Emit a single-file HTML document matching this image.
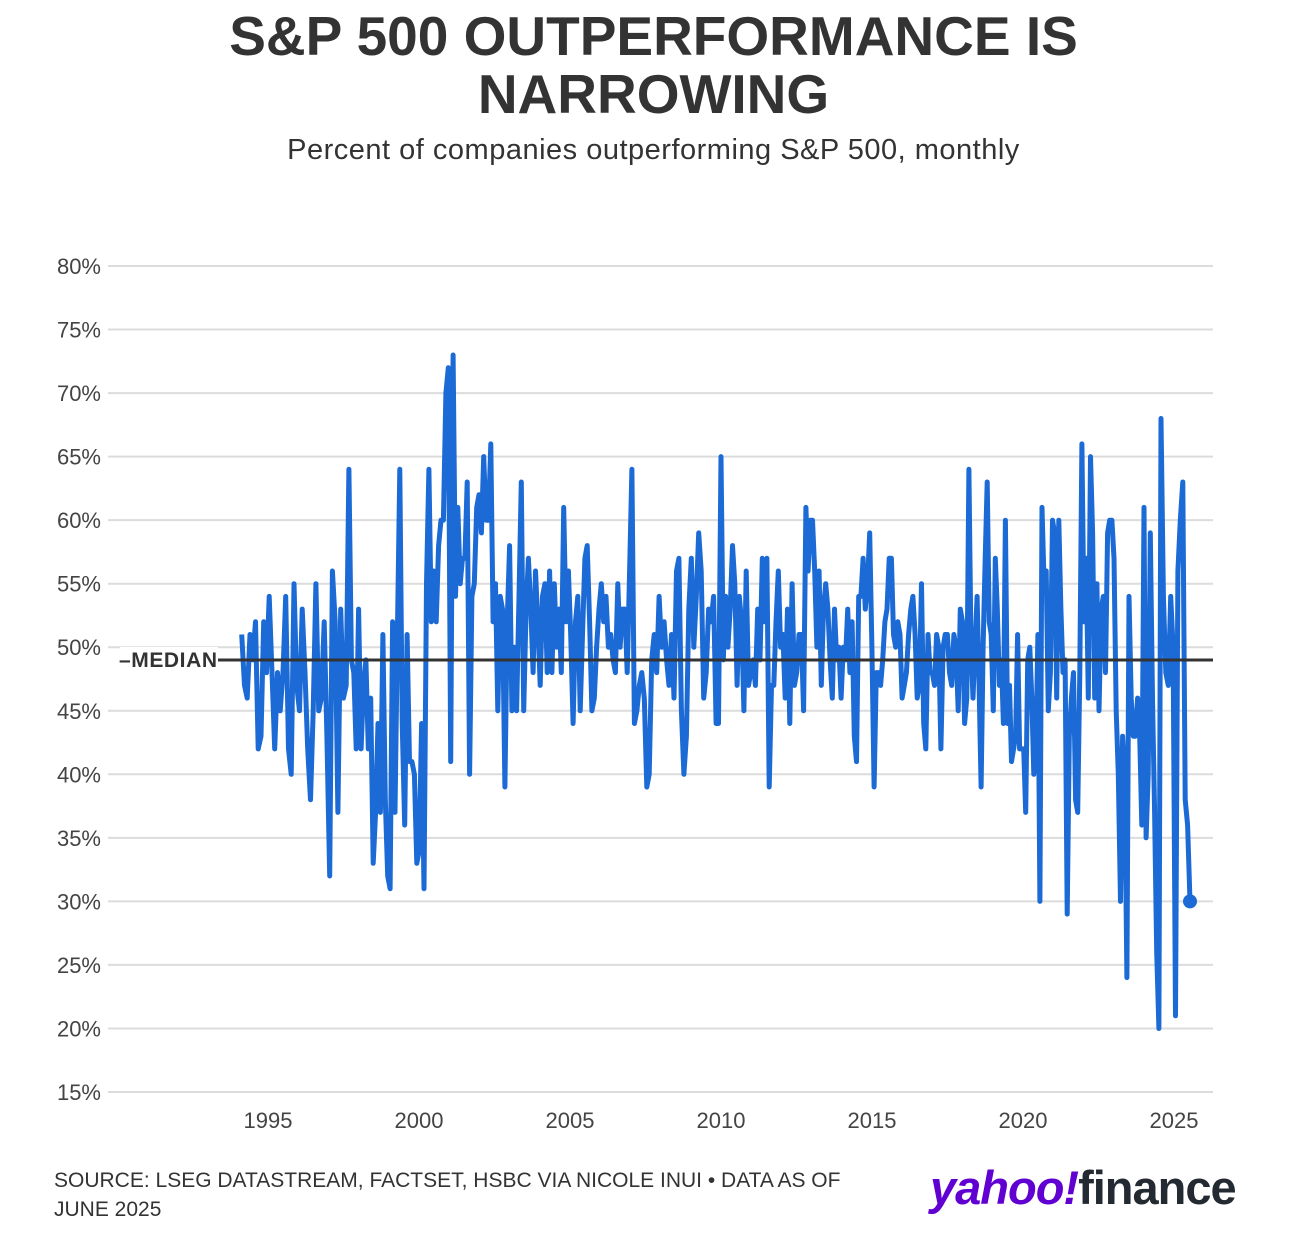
<!DOCTYPE html>
<html><head><meta charset="utf-8"><style>
body{margin:0;background:#fff;width:1307px;height:1240px;overflow:hidden;font-family:"Liberation Sans",sans-serif;}
#title{position:absolute;left:0;width:1307px;top:7px;text-align:center;font-weight:bold;font-size:55px;line-height:58px;color:#333;}
#sub{position:absolute;left:0;width:1307px;top:134px;text-align:center;font-size:29px;color:#333;letter-spacing:0.5px}
#src{position:absolute;left:54px;top:1166px;font-size:21px;line-height:29px;color:#333;width:840px}
#logo{position:absolute;left:930px;top:1160px;font-size:47px;font-weight:bold;letter-spacing:-1px;}
</style></head><body>
<div id="title">S&amp;P 500 OUTPERFORMANCE IS<br>NARROWING</div>
<div id="sub">Percent of companies outperforming S&amp;P 500, monthly</div>
<svg id="chart" width="1307" height="1240" style="position:absolute;left:0;top:0"></svg>
<div id="src">SOURCE: LSEG DATASTREAM, FACTSET, HSBC VIA NICOLE INUI • DATA AS OF JUNE 2025</div>
<div id="logo"><span style="color:#6001d2;font-style:italic">yahoo!</span><span style="color:#232a31">finance</span></div>
<script>
const yTicks=[15,20,25,30,35,40,45,50,55,60,65,70,75,80];
const xTicks=[1995,2000,2005,2010,2015,2020,2025];
const median=49;
const anchorIdx=[0,39,82,158,194,231,262,306,341,361,382,398,410];
const anchorYear=[1994.13,1997.68,2001.13,2007.05,2010.0,2012.81,2015.07,2018.21,2020.56,2021.95,2023.44,2024.57,2025.53];
const values=[51,47,46,51,49,52,42,43,52,48,54,48,42,48,45,48,54,42,40,55,47,45,53,48,42,38,45,55,45,46,52,43,32,56,52,37,53,46,47,64,49,48,42,53,42,47,49,42,46,33,37,44,37,51,38,32,31,52,37,51,64,44,36,51,41,41,40,33,34,44,31,55,64,52,56,52,58,60,60,70,72,41,73,54,61,55,57,57,63,40,54,55,61,62,59,65,60,60,66,52,55,45,54,53,39,52,58,45,50,45,54,63,45,53,57,53,48,56,52,47,54,55,48,56,48,55,50,53,48,61,52,56,51,44,52,54,45,51,57,58,52,45,46,50,53,55,52,54,50,51,49,48,55,50,53,53,48,56,64,44,45,47,48,46,39,40,49,51,48,54,50,52,49,47,51,46,56,57,45,40,43,53,57,50,54,59,56,46,48,53,52,54,44,44,65,49,54,50,53,58,55,47,54,52,45,56,47,48,49,47,53,49,57,52,57,39,47,47,52,56,50,51,46,53,44,55,47,48,51,51,45,61,56,60,60,56,50,56,47,53,55,53,49,46,53,49,50,46,50,49,53,48,52,43,41,54,54,57,53,55,59,50,39,48,48,47,49,52,53,57,57,51,50,52,51,46,47,48,51,53,54,51,46,47,55,44,42,51,48,48,47,51,50,42,50,51,51,48,47,51,50,45,53,52,44,46,64,50,46,50,54,47,39,50,57,63,52,51,45,57,53,47,49,44,60,44,47,41,42,43,51,42,42,42,37,49,50,46,40,42,51,30,61,55,56,45,48,60,59,46,60,53,48,49,29,43,46,48,38,37,48,66,52,57,46,65,59,46,55,45,53,54,48,59,60,60,57,45,40,30,43,40,24,54,46,43,43,46,43,36,61,35,40,59,46,37,26,20,68,54,48,47,54,50,21,56,60,63,38,36,30];
const svg=document.getElementById('chart');const NS='http://www.w3.org/2000/svg';
const X0=108,X1=1213,yearA=1995,xA=268,pxYear=30.2;
function xs(yr){return xA+(yr-yearA)*pxYear;}
function ys(v){return 266+(80-v)*826/65;}
function dateOf(i){for(let k=0;k<anchorIdx.length-1;k++){if(i<=anchorIdx[k+1]){const f=(i-anchorIdx[k])/(anchorIdx[k+1]-anchorIdx[k]);return anchorYear[k]+f*(anchorYear[k+1]-anchorYear[k]);}}return anchorYear[anchorYear.length-1];}
function mk(t,a,txt){const e=document.createElementNS(NS,t);for(const k in a)e.setAttribute(k,a[k]);if(txt!==undefined)e.textContent=txt;svg.appendChild(e);return e;}
yTicks.forEach(v=>{
 const g=mk('line',{x1:X0,x2:X1,y1:ys(v),y2:ys(v),stroke:'#dcdcdc','stroke-width':2});
 
 
 const t=mk('text',{x:101,y:ys(v)+8,'text-anchor':'end','font-size':22,fill:'#444','font-family':'Liberation Sans'},v+'%');
 
 
});
xTicks.forEach(yr=>{
 const t=mk('text',{x:xs(yr),y:1128,'text-anchor':'middle','font-size':22,fill:'#444','font-family':'Liberation Sans'},yr);
 
 
});
const n=values.length;let d='';
values.forEach((v,i)=>{d+=(i?'L':'M')+xs(dateOf(i)).toFixed(1)+','+ys(v).toFixed(1);});
const p=mk('path',{d:d,fill:'none',stroke:'#1b6ad5','stroke-width':5,'stroke-linejoin':'round'});


const ml=mk('line',{x1:120,x2:X1,y1:ys(median),y2:ys(median),stroke:'#333','stroke-width':3});


const mb=mk('rect',{x:120,y:ys(median)-13,width:98,height:24,fill:'#fff'});


const mt=mk('text',{x:119,y:ys(median)+7,'font-size':21,'font-weight':'bold',fill:'#333','font-family':'Liberation Sans',textLength:98},'–MEDIAN');


const dot=mk('circle',{cx:xs(dateOf(n-1)),cy:ys(values[n-1]),r:7,fill:'#1b6ad5'});


</script>
</body></html>
